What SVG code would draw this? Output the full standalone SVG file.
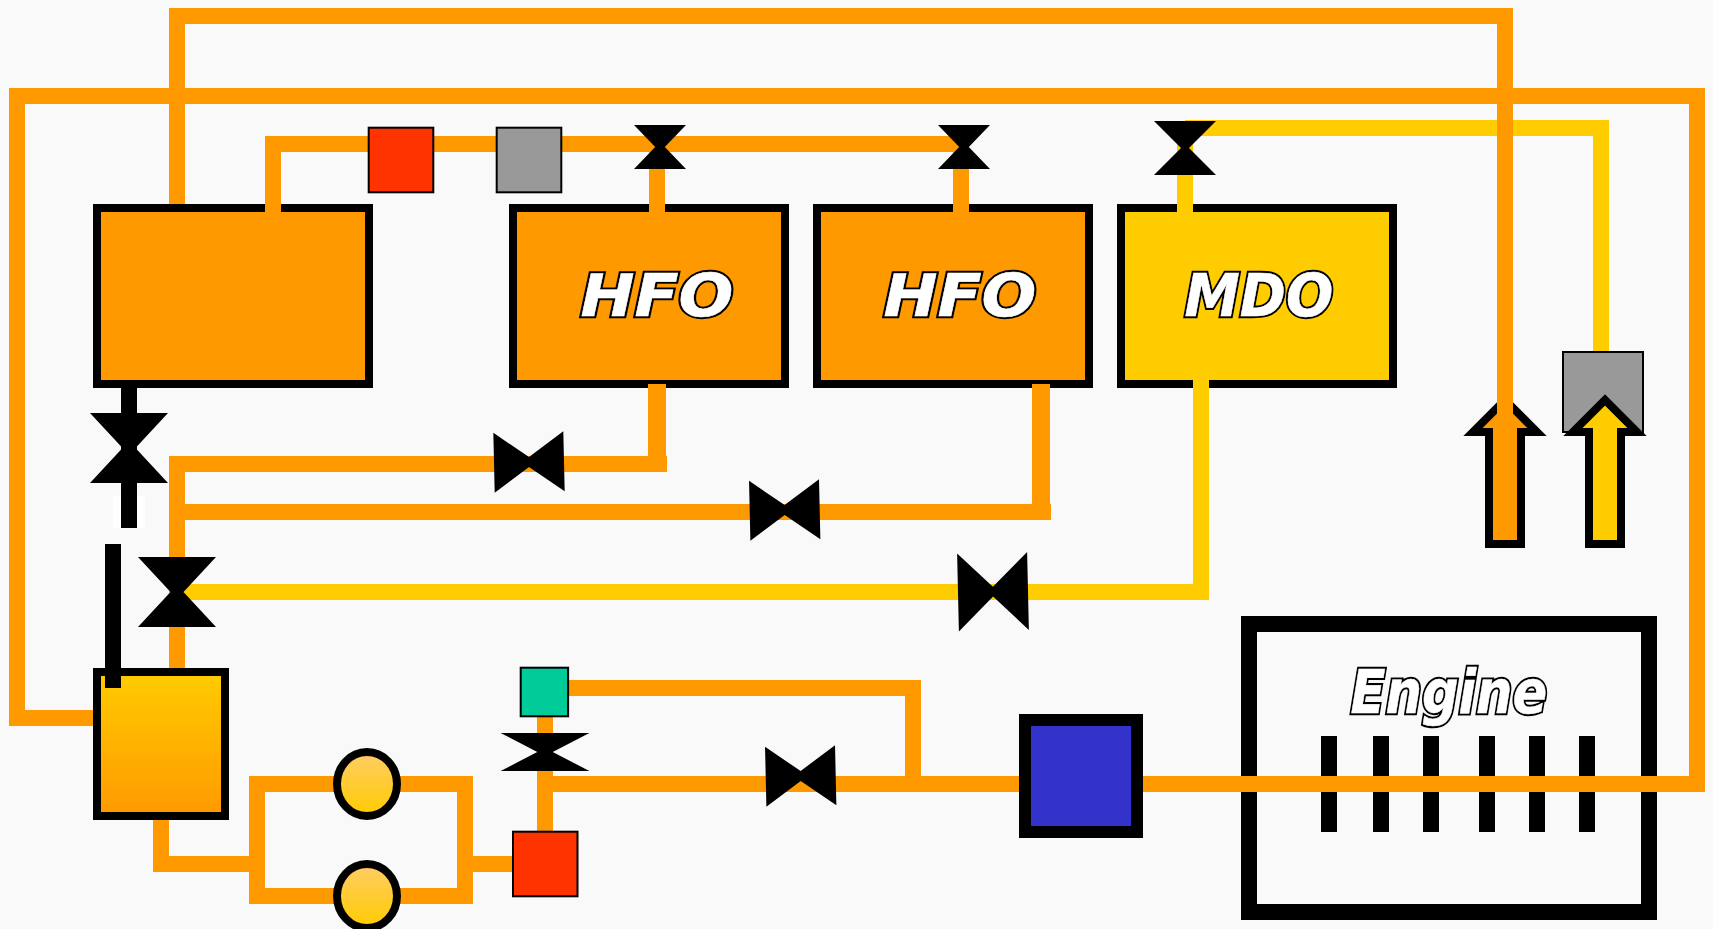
<svg xmlns="http://www.w3.org/2000/svg" width="1713" height="929" viewBox="0 0 1713 929">
<style>
.o{fill:none;stroke:#f90;stroke-width:16;stroke-linejoin:miter}
.y{fill:none;stroke:#fc0;stroke-width:16}
.k{fill:none;stroke:#000;stroke-width:16}
.tank{stroke:#000;stroke-width:8}
.box{stroke:#000;stroke-width:2}
.v{fill:#000}
.tx{font-family:"DejaVu Sans",sans-serif;font-weight:bold;font-style:italic}
.lo{fill:#000;stroke:#000;stroke-width:4.5}
.hi{fill:#fff;stroke:#fff;stroke-width:.5}
.bar{fill:#000}
</style>
<defs>
<linearGradient id="g1" x1="0" y1="0" x2="0" y2="1"><stop offset="0" stop-color="#fc0"/><stop offset="1" stop-color="#f90"/></linearGradient>
<linearGradient id="g2" x1="0" y1="0" x2="0" y2="1"><stop offset="0" stop-color="#fc6"/><stop offset="1" stop-color="#fc0"/></linearGradient>
<path id="arrow" d="M-16 144V32H-32L0 0L32 32H16V144Z" stroke="#000" stroke-width="8"/>
<text id="l-hfo" class="tx" font-size="58">HFO</text>
<text id="l-mdo" class="tx" font-size="58">MDO</text>
<text id="l-eng" class="tx" font-size="60">Engine</text>
</defs>
<rect width="1713" height="929" fill="#f9f9f9"/>

<path class="o" d="M177 204V16H1505V430" id="top-return"/>
<g id="tank-a"><rect class="tank" x="97" y="208" width="272" height="176" fill="#f90"/></g>
<g id="tank-hfo1"><rect class="tank" x="513" y="208" width="272" height="176" fill="#f90"/>
<use href="#l-hfo" class="lo" transform="translate(580.5 315.5) scale(1.113 1)"/><use href="#l-hfo" class="hi" transform="translate(580.5 315.5) scale(1.113 1)"/></g>
<g id="tank-hfo2"><rect class="tank" x="817" y="208" width="272" height="176" fill="#f90"/>
<use href="#l-hfo" class="lo" transform="translate(883.5 315.5) scale(1.113 1)"/><use href="#l-hfo" class="hi" transform="translate(883.5 315.5) scale(1.113 1)"/></g>
<g id="tank-mdo"><rect class="tank" x="1121" y="208" width="272" height="176" fill="#fc0"/>
<use href="#l-mdo" class="lo" transform="translate(1184.5 315.5) scale(.959 1)"/><use href="#l-mdo" class="hi" transform="translate(1184.5 315.5) scale(.959 1)"/></g>
<g id="engine">
<rect x="1249" y="624" width="400" height="288" fill="none" stroke="#000" stroke-width="16"/>
<rect class="bar" x="1321" y="736" width="16" height="96"/><rect class="bar" x="1373" y="736" width="16" height="96"/><rect class="bar" x="1423" y="736" width="16" height="96"/><rect class="bar" x="1479" y="736" width="16" height="96"/><rect class="bar" x="1529" y="736" width="16" height="96"/><rect class="bar" x="1579" y="736" width="16" height="96"/>
<use href="#l-eng" class="lo" transform="translate(1350.5 712.5) scale(.853 1)"/><use href="#l-eng" class="hi" transform="translate(1350.5 712.5) scale(.853 1)"/>
</g>
<g id="settling-white"><rect x="113" y="496" width="32" height="32" fill="#fff"/></g>

<g id="connectors">
<path class="o" d="M93 718H17V96H1697V784H545"/>
<path class="y" d="M1185 212V144"/>
<path class="y" d="M1185 128H1601V352"/>
<path class="o" d="M1505 16V430"/>
<path class="o" d="M273 212V144H961"/>
<path class="o" d="M657 212V150"/>
<path class="o" d="M961 212V150"/>
<path class="o" d="M667 464H177V668"/>
<rect x="648" y="384" width="18" height="80" fill="#f90"/>
<path class="o" d="M177 512H1051"/>
<rect x="1032" y="384" width="18" height="128" fill="#f90"/>
<path class="y" d="M1201 380V592H177"/>
<path class="o" d="M161 816V864H257"/>
<rect class="o" x="257" y="784" width="208" height="112"/>
<path class="o" d="M465 864H513"/>
<path class="o" d="M545 717V832"/>
<path class="o" d="M568 688H913V784"/>
<path class="k" d="M129 384V528"/>
</g>

<g id="tank-b"><rect class="tank" x="97" y="672" width="128" height="144" fill="url(#g1)"/></g>
<path class="k" d="M113 544V688"/>
<g id="pump1"><ellipse cx="367" cy="784" rx="30" ry="32" fill="url(#g2)" stroke="#000" stroke-width="8"/></g>
<g id="pump2"><ellipse cx="367" cy="896" rx="30" ry="32" fill="url(#g2)" stroke="#000" stroke-width="8"/></g>
<g id="box-red1"><rect class="box" x="368.7" y="127.7" width="64.6" height="64.6" fill="#f30"/></g>
<g id="box-gray1"><rect class="box" x="496.7" y="127.7" width="64.6" height="64.6" fill="#999"/></g>
<g id="box-red2"><rect class="box" x="513" y="831.7" width="64.5" height="64.6" fill="#f30"/></g>
<g id="box-green"><rect class="box" x="520.7" y="667.7" width="47.4" height="48.6" fill="#0c9"/></g>
<g id="heater"><rect x="1025" y="720" width="112" height="112" fill="#33c" stroke="#000" stroke-width="12"/></g>
<g id="box-gray2"><rect class="box" x="1563" y="352" width="80" height="80" fill="#999"/></g>

<g id="arrow-o"><use href="#arrow" x="1505" y="400" fill="#f90"/></g>
<path class="o" d="M1505 380V420"/>
<g id="arrow-y"><use href="#arrow" x="1605" y="400" fill="#fc0"/></g>

<g id="valve1"><path class="v" d="M90 413H168L129 455ZM168 483H90L129 441Z"/></g>
<g id="valve2"><path class="v" d="M138 557H216L177 599ZM216 627H138L177 585Z"/></g>
<g id="valve3"><path class="v" d="M634 125H686L660 152ZM686 169H634L660 142Z"/></g>
<g id="valve4"><path class="v" d="M938 125H990L964 152ZM990 169H938L964 142Z"/></g>
<g id="valve5"><path class="v" d="M1154 121H1216L1185 152ZM1216 175H1154L1185 144Z"/></g>
<g id="valve6"><path class="v" transform="translate(529 462) rotate(-1.3)" d="M-35 -30V30L7 0ZM35 -30L-7 0L35 30Z"/></g>
<g id="valve7"><path class="v" transform="translate(784.7 510) rotate(-1.3)" d="M-35 -30V30L7 0ZM35 -30L-7 0L35 30Z"/></g>
<g id="valve8"><path class="v" transform="translate(993 591.7) rotate(-1.3)" d="M-35 -39V39L5 0ZM35 -39L-5 0L35 39Z"/></g>
<g id="valve9"><path class="v" transform="translate(800.7 776) rotate(-1.3)" d="M-35 -30V30L7 0ZM35 -30L-7 0L35 30Z"/></g>
<g id="valve10"><path class="v" d="M500.6 733H589.4L545 756ZM589.4 771H500.6L545 748Z"/></g>
</svg>
